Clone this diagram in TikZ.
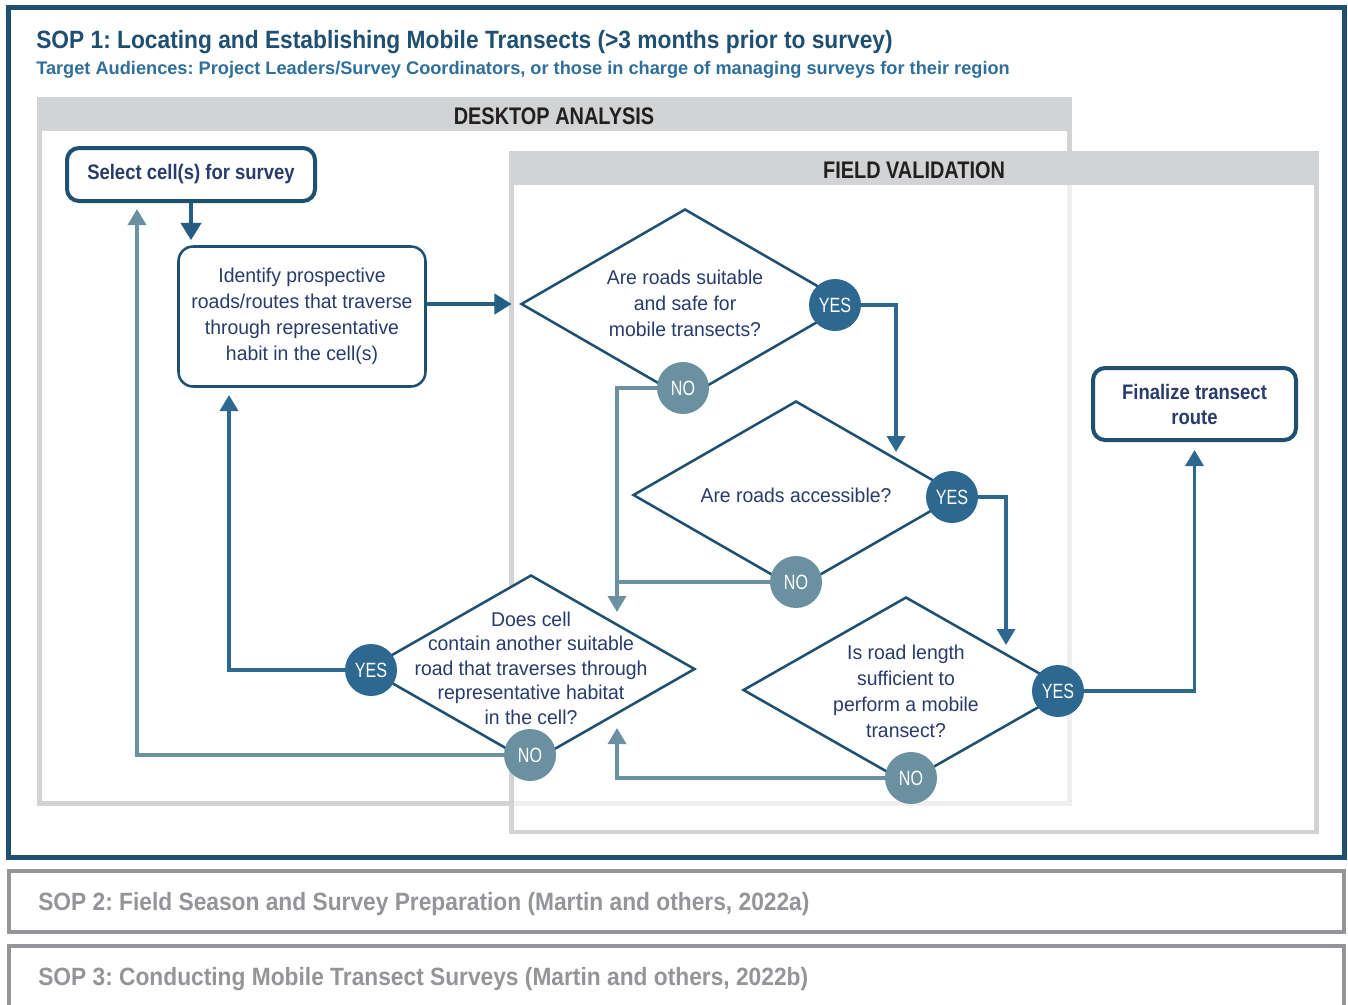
\documentclass[tikz,border=0pt]{standalone}
\usepackage{fontspec}
\setmainfont{Liberation Sans}
\newfontfamily\titlef{Liberation Sans}[FakeStretch=0.91]
\newfontfamily\headf{Liberation Sans}[FakeStretch=0.83]
\newfontfamily\boxf{Liberation Sans}[FakeStretch=0.88]
\newfontfamily\bodyf{Liberation Sans}[FakeStretch=0.97]
\newfontfamily\circf{Liberation Sans}[FakeStretch=0.78]
\usetikzlibrary{arrows.meta,shapes.geometric}
\definecolor{dblue}{HTML}{1F5072}
\definecolor{sblue}{HTML}{2F6F9C}
\definecolor{navy}{HTML}{283B6A}
\definecolor{yesc}{HTML}{2D6890}
\definecolor{noc}{HTML}{6B91A0}
\definecolor{pgray}{HTML}{D1D3D4}
\definecolor{lgray}{HTML}{EFEFEF}
\definecolor{bgray}{HTML}{939598}
\definecolor{arrc}{HTML}{265D83}
\definecolor{hdark}{HTML}{231F20}
\frenchspacing
\begin{document}
\begin{tikzpicture}[x=0.75pt,y=-0.75pt,
  box/.style={draw=dblue, fill=white, inner sep=0pt, align=center, text=navy},
  selbox/.style={box, line width=3pt, rounded corners=9pt, font=\boxf\bfseries\fontsize{15.75}{18.75}\selectfont},
  idbox/.style={box, line width=1.9pt, rounded corners=11pt, font=\bodyf\fontsize{15}{19.5}\selectfont},
  dia/.style={diamond, draw=dblue, line width=1.9pt, fill=white, inner sep=0pt},
  dtext/.style={align=center, text=navy, inner sep=0pt, font=\bodyf\fontsize{15}{19.5}\selectfont},
  yesn/.style={circle, fill=yesc, minimum size={52*0.75pt}, inner sep=0pt, text=white, font=\circf\fontsize{15.5}{18}\selectfont},
  non/.style={yesn, fill=noc},
  darr/.style={draw=arrc, line width=3pt, -{Triangle[width=15pt,length=13pt]}},
  yarr/.style={draw=yesc, line width=2.6pt, -{Triangle[width=13.5pt,length=12pt]}},
  narr/.style={draw=noc, line width=2.6pt, -{Triangle[width=13.5pt,length=12pt]}},
  nline/.style={draw=noc, line width=2.6pt},
  sopt/.style={anchor=base west, inner sep=0pt, font=\titlef\bfseries\fontsize{18.75}{22}\selectfont},
  headt/.style={anchor=base, inner sep=0pt, text=hdark, font=\headf\bfseries\fontsize{18}{20}\selectfont},
]
\path[use as bounding box] (0,0) rectangle (1348,1004);
\clip (0,0) rectangle (1348,1004);
\fill[white] (0,0) rectangle (1348,1004);

% SOP 1 frame
\draw[dblue, line width=3.75pt] (8,7) rectangle (1344,857);
\node[sopt, text=dblue] (title) at (36,48) {SOP 1: Locating and Establishing Mobile Transects (>3 months prior to survey)};
\node[anchor=base west, inner sep=0pt, text=sblue, font=\bfseries\fontsize{13.65}{16}\selectfont] (sub) at (36,74) {Target Audiences: Project Leaders/Survey Coordinators, or those in charge of managing surveys for their region};

% panels
\fill[pgray] (37,97) rectangle (1072,806);
\fill[white] (42,131) rectangle (1067,801);
\node[headt] (dah) at (554,124) {DESKTOP ANALYSIS};
\fill[pgray] (509,151) rectangle (1319,834);
\fill[white] (514,185) rectangle (1314,830);
\fill[lgray] (1067,185) rectangle (1072,806);
\fill[lgray] (514,801) rectangle (1067,806);
\node[headt] (fvh) at (914,178) {FIELD VALIDATION};

% boxes
\node[selbox, minimum width={248*0.75pt}, minimum height={53*0.75pt}] (sel) at (191,174.5) {Select cell(s) for survey};
\node[idbox, minimum width={247*0.75pt}, minimum height={140*0.75pt}] (idn) at (302,316.5) {Identify prospective\\roads/routes that traverse\\through representative\\habit in the cell(s)};
\node[selbox, minimum width={203*0.75pt}, minimum height={72*0.75pt}] (fin) at (1194.5,404) {Finalize transect\\route};

% diamonds
\node[dia, minimum width={328*0.75pt}, minimum height={190*0.75pt}] (d1) at (685,304) {};
\node[dtext] (d1t) at (685,303) {Are roads suitable\\and safe for\\mobile transects?};
\node[dia, minimum width={326*0.75pt}, minimum height={188*0.75pt}] (d2) at (796,495) {};
\node[dtext] (d2t) at (796,495) {Are roads accessible?};
\node[dia, minimum width={326*0.75pt}, minimum height={186*0.75pt}] (d3) at (906,690) {};
\node[dtext] (d3t) at (906,691) {Is road length\\sufficient to\\perform a mobile\\transect?};
\node[dia, minimum width={328*0.75pt}, minimum height={188*0.75pt}] (d4) at (531,669) {};
\node[dtext, font=\bodyf\fontsize{15}{18.4}\selectfont] (d4t) at (531,668) {Does cell\\contain another suitable\\road that traverses through\\representative habitat\\in the cell?};

% yes / no circles
\node[yesn] (y1) at (835,305) {YES};
\node[non]  (n1) at (683,388) {NO};
\node[yesn] (y2) at (952,497) {YES};
\node[non]  (n2) at (796,582) {NO};
\node[yesn] (y3) at (1058,691) {YES};
\node[non]  (n3) at (911,778) {NO};
\node[yesn] (y4) at (371,670) {YES};
\node[non]  (n4) at (530,755) {NO};

% connectors
\draw[darr, shorten >=3.75pt] (sel.south) -- (sel.south |- idn.north);
\draw[darr, shorten >=6pt] (idn.east |- d1.west) -- (d1.west);
\coordinate (t1) at (896,452);
\draw[yarr] (y1.east) -| (t1);
\coordinate (t2) at (1006,645);
\draw[yarr] (y2.east) -| (t2);
\draw[yarr, shorten >=6pt] (y3.east) -| (fin.south);
\coordinate (t4) at (617,612);
\draw[narr] (n1.west) -| (t4);
\draw[nline] (n2.west) -- ([xshift=-1.3pt]n2.west -| t4);
\coordinate (t5) at (617,728);
\draw[narr] (n3.west) -| (t5);
\coordinate (t6) at (229,395);
\draw[yarr] (y4.west) -| (t6);
\coordinate (t7) at (137,209);
\draw[narr] (n4.west) -| (t7);

% SOP 2 and 3
\draw[bgray, line width=3pt] (9,871) rectangle (1344,932);
\node[sopt, text=bgray] (s2) at (38,910) {SOP 2: Field Season and Survey Preparation (Martin and others, 2022a)};
\draw[bgray, line width=3pt] (9,946) rectangle (1344,1012);
\node[sopt, text=bgray] (s3) at (38,985) {SOP 3: Conducting Mobile Transect Surveys (Martin and others, 2022b)};
\end{tikzpicture}
\end{document}
